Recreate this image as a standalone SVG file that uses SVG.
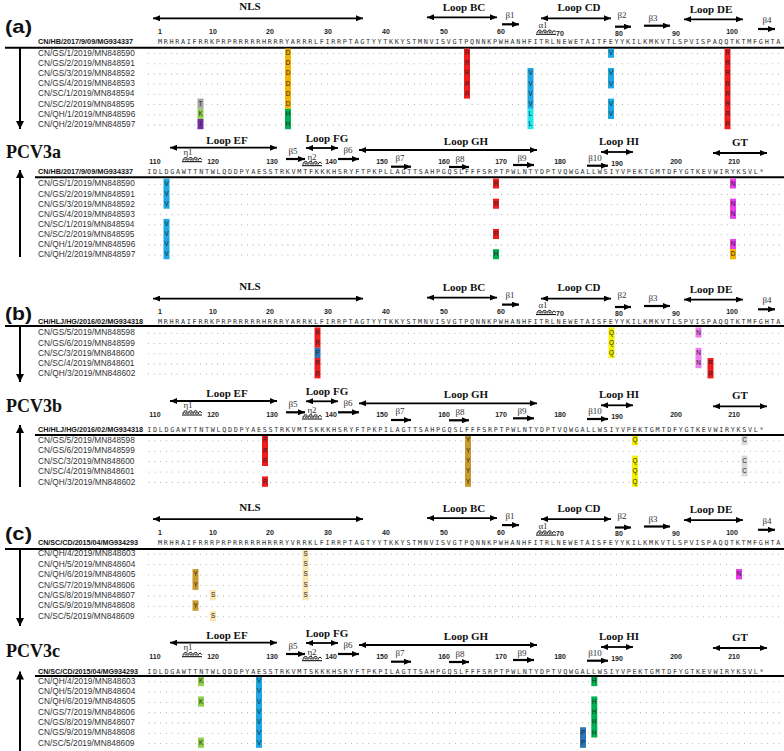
<svg xmlns="http://www.w3.org/2000/svg" xmlns:xlink="http://www.w3.org/1999/xlink" width="784" height="751" viewBox="0 0 784 751">
<style>
.nm{font-family:"Liberation Sans",Arial,sans-serif;font-size:8.3px;fill:#333}
.ref{font-family:"Liberation Sans",Arial,sans-serif;font-size:7.2px;font-weight:bold;fill:#111}
.seq{font-family:"DejaVu Sans Mono",monospace;font-size:6.8px;letter-spacing:1.686px;fill:#333}
.num{font-family:"Liberation Sans",Arial,sans-serif;font-size:7px;font-weight:bold;fill:#222;text-anchor:middle}
.loop{font-family:"Liberation Serif","Times New Roman",serif;font-size:11px;font-weight:bold;fill:#111;text-anchor:middle}
.ss{font-family:"Liberation Serif","Times New Roman",serif;font-size:9px;fill:#333;text-anchor:middle}
.big{font-family:"Liberation Serif","Times New Roman",serif;font-size:18px;font-weight:bold;fill:#111}
.pl{font-family:"Liberation Sans",Arial,sans-serif;font-size:19px;font-weight:bold;fill:#111}
.dots{stroke:#a8a8a8;stroke-width:1.1;stroke-dasharray:0 5.78;stroke-linecap:round}
.la{stroke:#000;stroke-width:1.8;marker-start:url(#m);marker-end:url(#m)}
.sa{stroke:#000;stroke-width:2.2;marker-end:url(#m)}
.va{stroke:#000;stroke-width:2;marker-end:url(#mb)}
.hl{stroke:#000;stroke-width:2}
.s{font-family:"Liberation Sans",Arial,sans-serif;font-size:6.3px;fill:#222;text-anchor:middle}
.cD{fill:#f5b400}.cH{fill:#00b050}.cT{fill:#a6a6a6}.cK{fill:#92d050}.cI{fill:#7030a0}
.cR{fill:#f21c1c}.cV{fill:#1ea7e1}.cL{fill:#1ee8f0}.cN{fill:#e83de8}.cNp{fill:#f07cf0}
.cQ{fill:#f5f000}.cY{fill:#c99a2e}.cC{fill:#d9d9d9}.cP{fill:#2e75b6}.cS{fill:#fbe5b0}
</style>
<defs>
<marker id="m" viewBox="0 0 7 6" refX="7" refY="3" markerWidth="7" markerHeight="6" markerUnits="userSpaceOnUse" orient="auto-start-reverse"><path d="M0,0 L7,3 L0,6 z" fill="#000"/></marker>
<marker id="mb" viewBox="0 0 8 8" refX="8" refY="4" markerWidth="8" markerHeight="8" markerUnits="userSpaceOnUse" orient="auto"><path d="M0,0 L8,4 L0,8 z" fill="#000"/></marker>
<g id="hx"><path d="M0,0 h20 M1,-1 c0,-4 5,-4 4,-1.5 c-0.6,1.5 -2.5,1 -2,-0.5 M6,-1 c0,-4 5,-4 4,-1.5 c-0.6,1.5 -2.5,1 -2,-0.5 M11,-1 c0,-4 5,-4 4,-1.5 c-0.6,1.5 -2.5,1 -2,-0.5 M16,-1 c0,-3 3.5,-3 3.5,-1" fill="none" stroke="#000" stroke-width="1"/></g>
<g id="h1">
 <text class="loop" x="250" y="10">NLS</text>
 <line class="la" x1="153" y1="18.3" x2="363" y2="18.3"/>
 <text class="loop" x="464" y="11">Loop BC</text>
 <line class="la" x1="427" y1="17.3" x2="497" y2="17.3"/>
 <text class="ss" x="510" y="18">β1</text>
 <line class="sa" x1="502" y1="24.3" x2="519" y2="24.3"/>
 <text class="ss" x="543" y="28">α1</text>
 <use href="#hx" x="536" y="34.3"/>
 <text class="loop" x="579" y="11">Loop CD</text>
 <line class="la" x1="541" y1="18.3" x2="611" y2="18.3"/>
 <text class="ss" x="622" y="18">β2</text>
 <line class="sa" x1="615" y1="26.7" x2="631" y2="26.7"/>
 <text class="ss" x="653" y="21">β3</text>
 <line class="sa" x1="644" y1="25.7" x2="670" y2="25.7"/>
 <text class="loop" x="711" y="12.7">Loop DE</text>
 <line class="la" x1="684" y1="19.3" x2="743" y2="19.3"/>
 <text class="ss" x="767" y="23">β4</text>
 <line class="sa" x1="758" y1="29" x2="775" y2="29"/>
 <text class="num" x="160" y="34.2">1</text>
 <text class="num" x="213" y="34.2">10</text>
 <text class="num" x="270" y="34.2">20</text>
 <text class="num" x="328" y="34.2">30</text>
 <text class="num" x="386" y="34.2">40</text>
 <text class="num" x="444" y="34.2">50</text>
 <text class="num" x="501" y="34.2">60</text>
 <text class="num" x="560" y="35.6">70</text>
 <text class="num" x="619" y="35.6">80</text>
 <text class="num" x="676" y="35.6">90</text>
 <text class="num" x="732" y="34.2">100</text>
</g>
<g id="h2">
 <text class="loop" x="227" y="143.5">Loop EF</text>
 <line class="la" x1="170" y1="147.7" x2="277" y2="147.7"/>
 <text class="ss" x="188" y="154.5">η1</text>
 <use href="#hx" x="182" y="161.7"/>
 <text class="loop" x="327" y="141.5">Loop FG</text>
 <line class="la" x1="306" y1="148" x2="338" y2="148"/>
 <text class="ss" x="293" y="154">β5</text>
 <line class="sa" x1="286" y1="159" x2="305" y2="159"/>
 <text class="ss" x="312" y="159.5">η2</text>
 <use href="#hx" x="302" y="165.7"/>
 <text class="ss" x="348" y="153">β6</text>
 <line class="sa" x1="338" y1="159" x2="359" y2="159"/>
 <line class="la" x1="359" y1="150" x2="537" y2="150"/>
 <text class="loop" x="466" y="144.5">Loop GH</text>
 <text class="ss" x="400" y="161">β7</text>
 <line class="sa" x1="391" y1="166.7" x2="411" y2="166.7"/>
 <text class="ss" x="460" y="162">β8</text>
 <line class="sa" x1="449" y1="167" x2="469" y2="167"/>
 <text class="ss" x="522" y="161">β9</text>
 <line class="sa" x1="513" y1="165" x2="534" y2="165"/>
 <text class="ss" x="595" y="161">β10</text>
 <line class="sa" x1="587" y1="165.7" x2="608" y2="165.7"/>
 <text class="loop" x="619" y="144.5">Loop HI</text>
 <line class="la" x1="601" y1="152" x2="633" y2="152"/>
 <text class="loop" x="740" y="145.5">GT</text>
 <line class="la" x1="713" y1="153" x2="767" y2="153"/>
 <text class="num" x="155" y="164.2">110</text>
 <text class="num" x="213" y="164.2">120</text>
 <text class="num" x="272" y="164.2">130</text>
 <text class="num" x="331" y="164.2">140</text>
 <text class="num" x="382" y="164.2">150</text>
 <text class="num" x="444" y="164.2">160</text>
 <text class="num" x="501" y="164.2">170</text>
 <text class="num" x="560" y="164.2">180</text>
 <text class="num" x="617" y="165.5">190</text>
 <text class="num" x="676" y="164.2">200</text>
 <text class="num" x="734" y="164.2">210</text>
</g>
</defs>

<g id="panel-a">
 <text class="pl" x="5" y="33" textLength="27" lengthAdjust="spacingAndGlyphs">(a)</text>
 <use href="#h1"/>
 <text class="ref" x="38" y="44.2" textLength="95" lengthAdjust="spacingAndGlyphs">CN/HB/2017/9/09/MG934337</text>
 <text class="seq" x="157.95" y="44.2">MRHRAIFRRKPRPRRRRRHRRRYARRRLFIRRPTAGTYYTKKYSTMNVISVGTPQNNKPWHANHFITRLNEWETAITFEYYKILKMKVTLSPVISPAQQTKTMFGHTA</text>
 <line class="hl" x1="5" y1="47.7" x2="784" y2="47.7"/>
 <line class="va" x1="20" y1="48" x2="20" y2="129"/>
 <g id="a-rows1">
  <text class="nm" x="38" y="55.6">CN/GS/1/2019/MN848590</text>
  <text class="nm" x="38" y="65.8">CN/GS/2/2019/MN848591</text>
  <text class="nm" x="38" y="76">CN/GS/3/2019/MN848592</text>
  <text class="nm" x="38" y="86.2">CN/GS/4/2019/MN848593</text>
  <text class="nm" x="38" y="96.4">CN/SC/1/2019/MN848594</text>
  <text class="nm" x="38" y="106.6">CN/SC/2/2019/MN848595</text>
  <text class="nm" x="38" y="116.8">CN/QH/1/2019/MN848596</text>
  <text class="nm" x="38" y="127">CN/QH/2/2019/MN848597</text>
  <line class="dots" x1="148.4" y1="53.5" x2="780" y2="53.5"/>
  <line class="dots" x1="148.4" y1="63.7" x2="780" y2="63.7"/>
  <line class="dots" x1="148.4" y1="73.9" x2="780" y2="73.9"/>
  <line class="dots" x1="148.4" y1="84.1" x2="780" y2="84.1"/>
  <line class="dots" x1="148.4" y1="94.3" x2="780" y2="94.3"/>
  <line class="dots" x1="148.4" y1="104.5" x2="780" y2="104.5"/>
  <line class="dots" x1="148.4" y1="114.7" x2="780" y2="114.7"/>
  <line class="dots" x1="148.4" y1="124.9" x2="780" y2="124.9"/>
  <rect class="cT" x="197.5" y="98.6" width="6" height="10.2"/><text class="s" x="200.5" y="105.9">T</text>
  <rect class="cK" x="197.5" y="108.8" width="6" height="10.2"/><text class="s" x="200.5" y="116.1">K</text>
  <rect class="cI" x="197.5" y="119" width="6" height="10.2"/><text class="s" x="200.5" y="126.3">I</text>
  <rect class="cD" x="285" y="48.6" width="6" height="60.2"/><rect class="cH" x="285" y="108.8" width="6" height="20.4"/>
  <text class="s" x="288" y="54.9">D</text><text class="s" x="288" y="65.1">D</text><text class="s" x="288" y="75.3">D</text><text class="s" x="288" y="85.5">D</text><text class="s" x="288" y="95.7">D</text><text class="s" x="288" y="105.9">D</text><text class="s" x="288" y="116.1">H</text><text class="s" x="288" y="126.3">H</text>
  <rect class="cR" x="464" y="48.6" width="6" height="50"/>
  <text class="s" x="467" y="54.9">R</text><text class="s" x="467" y="65.1">R</text><text class="s" x="467" y="75.3">R</text><text class="s" x="467" y="85.5">R</text><text class="s" x="467" y="95.7">R</text>
  <rect class="cV" x="527.5" y="68" width="6" height="40.8"/><rect class="cL" x="527.5" y="108.8" width="6" height="20.4"/>
  <text class="s" x="530.5" y="75.3">V</text><text class="s" x="530.5" y="85.5">V</text><text class="s" x="530.5" y="95.7">V</text><text class="s" x="530.5" y="105.9">V</text><text class="s" x="530.5" y="116.1">L</text><text class="s" x="530.5" y="126.3">L</text>
  <rect class="cV" x="608" y="48.6" width="6" height="9.2"/><rect class="cV" x="608" y="68" width="6" height="20.4"/><rect class="cV" x="608" y="98.6" width="6" height="20.4"/>
  <text class="s" x="611" y="54.9">V</text><text class="s" x="611" y="75.3">V</text><text class="s" x="611" y="85.5">V</text><text class="s" x="611" y="105.9">V</text><text class="s" x="611" y="116.1">V</text>
  <rect class="cR" x="724.5" y="48.6" width="6" height="80.6"/>
  <text class="s" x="727.5" y="54.9">R</text><text class="s" x="727.5" y="65.1">R</text><text class="s" x="727.5" y="75.3">R</text><text class="s" x="727.5" y="85.5">R</text><text class="s" x="727.5" y="95.7">R</text><text class="s" x="727.5" y="105.9">R</text><text class="s" x="727.5" y="116.1">R</text><text class="s" x="727.5" y="126.3">R</text>
 </g>
 <text class="big" x="6" y="157.5">PCV3a</text>
 <use href="#h2"/>
 <text class="ref" x="38" y="174.2" textLength="95" lengthAdjust="spacingAndGlyphs">CN/HB/2017/9/09/MG934337</text>
 <text class="seq" x="147.15" y="174.2">IDLDGAWTTNTWLQDDPYAESSTRKVMTFKKKHSRYFTPKPLLAGTTSAHPGQSLFFFSRPTPWLNTYDPTVQWGALLWSIYVPEKTGMTDFYGTKEVWIRYKSVL*</text>
 <line class="hl" x1="35" y1="177.3" x2="784" y2="177.3"/>
 <line class="va" x1="20" y1="257" x2="20" y2="170"/>
 <g id="a-rows2">
  <text class="nm" x="38" y="186.4">CN/GS/1/2019/MN848590</text>
  <text class="nm" x="38" y="196.5">CN/GS/2/2019/MN848591</text>
  <text class="nm" x="38" y="206.6">CN/GS/3/2019/MN848592</text>
  <text class="nm" x="38" y="216.7">CN/GS/4/2019/MN848593</text>
  <text class="nm" x="38" y="226.8">CN/SC/1/2019/MN848594</text>
  <text class="nm" x="38" y="236.9">CN/SC/2/2019/MN848595</text>
  <text class="nm" x="38" y="247">CN/QH/1/2019/MN848596</text>
  <text class="nm" x="38" y="257.1">CN/QH/2/2019/MN848597</text>
  <line class="dots" x1="149.2" y1="184.3" x2="781" y2="184.3"/>
  <line class="dots" x1="149.2" y1="194.4" x2="781" y2="194.4"/>
  <line class="dots" x1="149.2" y1="204.5" x2="781" y2="204.5"/>
  <line class="dots" x1="149.2" y1="214.6" x2="781" y2="214.6"/>
  <line class="dots" x1="149.2" y1="224.7" x2="781" y2="224.7"/>
  <line class="dots" x1="149.2" y1="234.8" x2="781" y2="234.8"/>
  <line class="dots" x1="149.2" y1="244.9" x2="781" y2="244.9"/>
  <line class="dots" x1="149.2" y1="255" x2="781" y2="255"/>
  <rect class="cV" x="163.5" y="178.5" width="6" height="30.2"/><rect class="cV" x="163.5" y="218.85" width="6" height="40.4"/>
  <text class="s" x="166.5" y="185.7">V</text><text class="s" x="166.5" y="195.8">V</text><text class="s" x="166.5" y="205.9">V</text><text class="s" x="166.5" y="226.1">V</text><text class="s" x="166.5" y="236.2">V</text><text class="s" x="166.5" y="246.3">V</text><text class="s" x="166.5" y="256.4">V</text>
  <rect class="cR" x="493" y="178.5" width="6" height="10"/><rect class="cR" x="493" y="198.65" width="6" height="10.1"/><rect class="cR" x="493" y="228.95" width="6" height="10.1"/><rect class="cH" x="493" y="249.15" width="6" height="10.1"/>
  <text class="s" x="496" y="185.7">R</text><text class="s" x="496" y="205.9">R</text><text class="s" x="496" y="236.2">R</text><text class="s" x="496" y="256.4">H</text>
  <rect class="cN" x="730" y="178.5" width="6" height="10"/><rect class="cN" x="730" y="198.65" width="6" height="20.2"/><rect class="cN" x="730" y="239.05" width="6" height="10.1"/><rect class="cD" x="730" y="249.15" width="6" height="10.1"/>
  <text class="s" x="733" y="185.7">N</text><text class="s" x="733" y="205.9">N</text><text class="s" x="733" y="216">N</text><text class="s" x="733" y="246.3">N</text><text class="s" x="733" y="256.4">D</text>
 </g>
</g>

<g id="panel-b">
 <text class="pl" x="5" y="319.5" textLength="27" lengthAdjust="spacingAndGlyphs">(b)</text>
 <use href="#h1" y="280.3"/>
 <text class="ref" x="38" y="324.2" textLength="105" lengthAdjust="spacingAndGlyphs">CH/HLJ/HG/2016/02/MG934318</text>
 <text class="seq" x="157.95" y="324.2">MRHRAIFRRKPRPRRRRRHRRRYARRKLFIRRPTAGTYYTKKYSTMNVISVGTPQNNKPWHANHFITRLNEWETAISFEYYKILKMKVTLSPVISPAQQTKTMFGHTA</text>
 <line class="hl" x1="5" y1="326" x2="784" y2="326"/>
 <line class="va" x1="20" y1="326" x2="20" y2="382"/>
 <g id="b-rows1">
  <text class="nm" x="38" y="335.4">CN/GS/5/2019/MN848598</text>
  <text class="nm" x="38" y="345.6">CN/GS/6/2019/MN848599</text>
  <text class="nm" x="38" y="355.8">CN/SC/3/2019/MN848600</text>
  <text class="nm" x="38" y="366">CN/SC/4/2019/MN848601</text>
  <text class="nm" x="38" y="376.2">CN/QH/3/2019/MN848602</text>
  <line class="dots" x1="148.4" y1="333.3" x2="780" y2="333.3"/>
  <line class="dots" x1="148.4" y1="343.5" x2="780" y2="343.5"/>
  <line class="dots" x1="148.4" y1="353.7" x2="780" y2="353.7"/>
  <line class="dots" x1="148.4" y1="363.9" x2="780" y2="363.9"/>
  <line class="dots" x1="148.4" y1="374.1" x2="780" y2="374.1"/>
  <rect class="cR" x="314.5" y="327.4" width="6" height="20.4"/><rect class="cP" x="314.5" y="347.8" width="6" height="10.2"/><rect class="cR" x="314.5" y="358" width="6" height="20.4"/>
  <text class="s" x="317.5" y="334.7">R</text><text class="s" x="317.5" y="344.9">R</text><text class="s" x="317.5" y="355.1">P</text><text class="s" x="317.5" y="365.3">R</text><text class="s" x="317.5" y="375.5">R</text>
  <rect class="cQ" x="608.5" y="327.4" width="6" height="30.6"/>
  <text class="s" x="611.5" y="334.7">Q</text><text class="s" x="611.5" y="344.9">Q</text><text class="s" x="611.5" y="355.1">Q</text>
  <rect class="cNp" x="695.5" y="327.4" width="6" height="10.2"/><rect class="cNp" x="695.5" y="347.8" width="6" height="20.4"/>
  <text class="s" x="698.5" y="334.7">N</text><text class="s" x="698.5" y="355.1">N</text><text class="s" x="698.5" y="365.3">N</text>
  <rect class="cR" x="707.5" y="358" width="6" height="20.4"/>
  <text class="s" x="710.5" y="365.3">R</text><text class="s" x="710.5" y="375.5">R</text>
 </g>
 <text class="big" x="6" y="411.5">PCV3b</text>
 <use href="#h2" y="253.3"/>
 <text class="ref" x="38" y="431.5" textLength="105" lengthAdjust="spacingAndGlyphs">CH/HLJ/HG/2016/02/MG934318</text>
 <text class="seq" x="147.15" y="431.5">IDLDGAWTTNTWLQDDPYAESSTRKVMTSKKKHSRYFTPKPILAGTTSAHPGQSLFFFSRPTPWLNTYDPTVQWGALLWSIYVPEKTGMTDFYGTKEVWIRYKSVL*</text>
 <line class="hl" x1="35" y1="435" x2="784" y2="435"/>
 <line class="va" x1="20" y1="487" x2="20" y2="425"/>
 <g id="b-rows2">
  <text class="nm" x="38" y="442.9">CN/GS/5/2019/MN848598</text>
  <text class="nm" x="38" y="453.3">CN/GS/6/2019/MN848599</text>
  <text class="nm" x="38" y="463.7">CN/SC/3/2019/MN848600</text>
  <text class="nm" x="38" y="474.1">CN/SC/4/2019/MN848601</text>
  <text class="nm" x="38" y="484.5">CN/QH/3/2019/MN848602</text>
  <line class="dots" x1="149.2" y1="440.8" x2="781" y2="440.8"/>
  <line class="dots" x1="149.2" y1="451.2" x2="781" y2="451.2"/>
  <line class="dots" x1="149.2" y1="461.6" x2="781" y2="461.6"/>
  <line class="dots" x1="149.2" y1="472" x2="781" y2="472"/>
  <line class="dots" x1="149.2" y1="482.4" x2="781" y2="482.4"/>
  <rect class="cR" x="262" y="436" width="6" height="30"/><rect class="cR" x="262" y="476.4" width="6" height="10.4"/>
  <text class="s" x="265" y="442.2">R</text><text class="s" x="265" y="452.6">R</text><text class="s" x="265" y="463">R</text><text class="s" x="265" y="483.8">R</text>
  <rect class="cY" x="465" y="436" width="6" height="50.8"/>
  <text class="s" x="468" y="442.2">Y</text><text class="s" x="468" y="452.6">Y</text><text class="s" x="468" y="463">Y</text><text class="s" x="468" y="473.4">Y</text><text class="s" x="468" y="483.8">Y</text>
  <rect class="cQ" x="632" y="436" width="6" height="9.2"/><rect class="cQ" x="632" y="455.6" width="6" height="31.2"/>
  <text class="s" x="635" y="442.2">Q</text><text class="s" x="635" y="463">Q</text><text class="s" x="635" y="473.4">Q</text><text class="s" x="635" y="483.8">Q</text>
  <rect class="cC" x="741.5" y="436" width="6" height="9.2"/><rect class="cC" x="741.5" y="455.6" width="6" height="20.8"/>
  <text class="s" x="744.5" y="442.2">C</text><text class="s" x="744.5" y="463">C</text><text class="s" x="744.5" y="473.4">C</text>
 </g>
</g>

<g id="panel-c">
 <text class="pl" x="5" y="540" textLength="27" lengthAdjust="spacingAndGlyphs">(c)</text>
 <use href="#h1" y="500.8"/>
 <text class="ref" x="38" y="545.2" textLength="100" lengthAdjust="spacingAndGlyphs">CN/SC/CD/2015/04/MG934293</text>
 <text class="seq" x="157.95" y="545.2">MRHRAIFRRRPRPRRRRRHRRRYVRRKLFIRRPTAGTYYTKKYSTMNVISVGTPQNNKPWHANHFITRLNEWETAISFEYYKILKMKVTLSPVISPAQQTKTMFGHTA</text>
 <line class="hl" x1="5" y1="549" x2="784" y2="549"/>
 <line class="va" x1="20" y1="549" x2="20" y2="626"/>
 <g id="c-rows1">
  <text class="nm" x="38" y="556.2">CN/QH/4/2019/MN848603</text>
  <text class="nm" x="38" y="566.65">CN/QH/5/2019/MN848604</text>
  <text class="nm" x="38" y="577.1">CN/QH/6/2019/MN848605</text>
  <text class="nm" x="38" y="587.55">CN/GS/7/2019/MN848606</text>
  <text class="nm" x="38" y="598">CN/GS/8/2019/MN848607</text>
  <text class="nm" x="38" y="608.45">CN/GS/9/2019/MN848608</text>
  <text class="nm" x="38" y="618.9">CN/SC/5/2019/MN848609</text>
  <line class="dots" x1="148.4" y1="554.1" x2="780" y2="554.1"/>
  <line class="dots" x1="148.4" y1="564.55" x2="780" y2="564.55"/>
  <line class="dots" x1="148.4" y1="575" x2="780" y2="575"/>
  <line class="dots" x1="148.4" y1="585.45" x2="780" y2="585.45"/>
  <line class="dots" x1="148.4" y1="595.9" x2="780" y2="595.9"/>
  <line class="dots" x1="148.4" y1="606.35" x2="780" y2="606.35"/>
  <line class="dots" x1="148.4" y1="616.8" x2="780" y2="616.8"/>
  <rect class="cY" x="192.5" y="569" width="6" height="20.9"/><rect class="cY" x="192.5" y="600.35" width="6" height="10.45"/>
  <text class="s" x="195.5" y="576.4">Y</text><text class="s" x="195.5" y="586.85">Y</text><text class="s" x="195.5" y="607.75">Y</text>
  <rect class="cS" x="210" y="589.9" width="6" height="10.45"/><rect class="cS" x="210" y="610.8" width="6" height="10.45"/>
  <text class="s" x="213" y="597.3">S</text><text class="s" x="213" y="618.2">S</text>
  <rect class="cS" x="302.5" y="550" width="6" height="50.35"/>
  <text class="s" x="305.5" y="555.5">S</text><text class="s" x="305.5" y="565.95">S</text><text class="s" x="305.5" y="576.4">S</text><text class="s" x="305.5" y="586.85">S</text><text class="s" x="305.5" y="597.3">S</text>
  <rect class="cN" x="736" y="569" width="6" height="10.45"/>
  <text class="s" x="739" y="576.4">N</text>
 </g>
 <text class="big" x="6" y="656.5">PCV3c</text>
 <use href="#h2" y="495"/>
 <text class="ref" x="38" y="673.5" textLength="100" lengthAdjust="spacingAndGlyphs">CN/SC/CD/2015/04/MG934293</text>
 <text class="seq" x="147.15" y="673.5">IDLDGAWTTNTWLQDDPYAESSTRKVMTSKKKHSRYFTPKPILAGTTSAHPGQSLFFFSRPTPWLNTYDPTVQWGALLWSIYVPEKTGMTDFYGTKEVWIRYKSVL*</text>
 <line class="hl" x1="35" y1="676" x2="784" y2="676"/>
 <line class="va" x1="20" y1="751" x2="20" y2="671.5"/>
 <g id="c-rows2">
  <text class="nm" x="38" y="683.9">CN/QH/4/2019/MN848603</text>
  <text class="nm" x="38" y="694.18">CN/QH/5/2019/MN848604</text>
  <text class="nm" x="38" y="704.46">CN/QH/6/2019/MN848605</text>
  <text class="nm" x="38" y="714.74">CN/GS/7/2019/MN848606</text>
  <text class="nm" x="38" y="725.02">CN/GS/8/2019/MN848607</text>
  <text class="nm" x="38" y="735.3">CN/GS/9/2019/MN848608</text>
  <text class="nm" x="38" y="745.58">CN/SC/5/2019/MN848609</text>
  <line class="dots" x1="149.2" y1="681.8" x2="781" y2="681.8"/>
  <line class="dots" x1="149.2" y1="692.08" x2="781" y2="692.08"/>
  <line class="dots" x1="149.2" y1="702.36" x2="781" y2="702.36"/>
  <line class="dots" x1="149.2" y1="712.64" x2="781" y2="712.64"/>
  <line class="dots" x1="149.2" y1="722.92" x2="781" y2="722.92"/>
  <line class="dots" x1="149.2" y1="733.2" x2="781" y2="733.2"/>
  <line class="dots" x1="149.2" y1="743.48" x2="781" y2="743.48"/>
  <rect class="cK" x="198" y="677" width="6" height="9.14"/><rect class="cK" x="198" y="696.42" width="6" height="10.28"/><rect class="cK" x="198" y="737.54" width="6" height="10.28"/>
  <text class="s" x="201" y="683.2">K</text><text class="s" x="201" y="703.76">K</text><text class="s" x="201" y="744.88">K</text>
  <rect class="cV" x="256" y="677" width="6" height="70.82"/>
  <text class="s" x="259" y="683.2">V</text><text class="s" x="259" y="693.48">V</text><text class="s" x="259" y="703.76">V</text><text class="s" x="259" y="714.04">V</text><text class="s" x="259" y="724.32">V</text><text class="s" x="259" y="734.6">V</text><text class="s" x="259" y="744.88">V</text>
  <rect class="cP" x="580" y="727.26" width="6" height="20.56"/>
  <text class="s" x="583" y="734.6">P</text><text class="s" x="583" y="744.88">P</text>
  <rect class="cH" x="591.3" y="677" width="6" height="9.14"/><rect class="cH" x="591.3" y="696.42" width="6" height="41.12"/>
  <text class="s" x="594.3" y="683.2">H</text><text class="s" x="594.3" y="703.76">H</text><text class="s" x="594.3" y="714.04">H</text><text class="s" x="594.3" y="724.32">H</text><text class="s" x="594.3" y="734.6">H</text>
 </g>
</g>
</svg>
